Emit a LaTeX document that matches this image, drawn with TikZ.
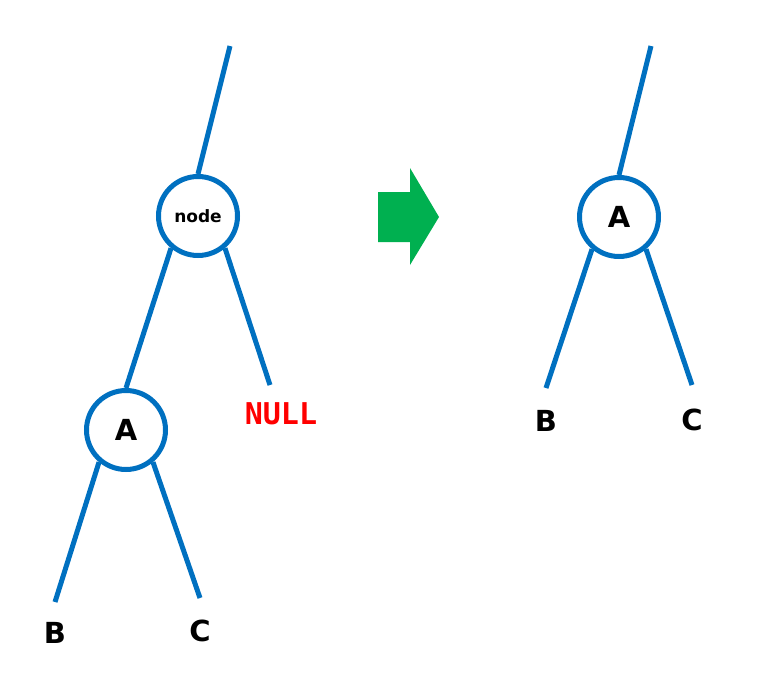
\documentclass[tikz,border=0pt]{standalone}
\usepackage{fontspec}
\setsansfont{DejaVu Sans}
\setmonofont{DejaVu Sans Mono}
\usetikzlibrary{positioning}
\definecolor{treeblue}{RGB}{0,112,192}
\definecolor{goright}{RGB}{0,176,80}

\begin{document}
\begin{tikzpicture}[x=1pt, y=-1pt,
  vert/.style={draw=treeblue, line width=5pt, circle, minimum size=79pt, inner sep=0pt, fill=white, font=\sffamily\bfseries\fontsize{29}{34}\selectfont},
  edge/.style={draw=treeblue, line width=5pt},
  leaf/.style={inner sep=0pt, font=\sffamily\bfseries\fontsize{29}{34}\selectfont}]
	\useasboundingbox (0,0) rectangle (758,691);
	% before
	\node[vert, font=\sffamily\bfseries\fontsize{17}{20}\selectfont] (node) at (198,216) {node};
	\node[vert] (A) at (126,430) {A};
	\coordinate (top1) at (230,46);
	\coordinate (nr) at (270,385);
	\coordinate (bl) at (55,602);
	\coordinate (cl) at (200,598);
	\draw[edge] (node.north) -- (top1);
	\draw[edge] (node.230) -- (A.north);
	\draw[edge] (node.310) -- (nr);
	\draw[edge] (A.230) -- (bl);
	\draw[edge] (A.310) -- (cl);
	\node[leaf, below=20pt of bl] (B1) {B};
	\node[leaf, below=22pt of cl] (C1) {C};
	\node[leaf, below=17pt of nr, xshift=11pt, text=red, font=\ttfamily\bfseries\fontsize{30}{36}\selectfont] (null) {NULL};
	% arrow
	\fill[goright] (378,192) -- (410,192) -- (410,168) -- (439,217) -- (410,265) -- (410,242) -- (378,242) -- cycle;
	% after
	\node[vert] (A2) at (619,217) {A};
	\coordinate (top2) at (651,46);
	\coordinate (br) at (546,388);
	\coordinate (cr) at (692,385);
	\draw[edge] (A2.north) -- (top2);
	\draw[edge] (A2.230) -- (br);
	\draw[edge] (A2.310) -- (cr);
	\node[leaf, below=22pt of br] (B2) {B};
	\node[leaf, below=24pt of cr] (C2) {C};
\end{tikzpicture}
\end{document}
